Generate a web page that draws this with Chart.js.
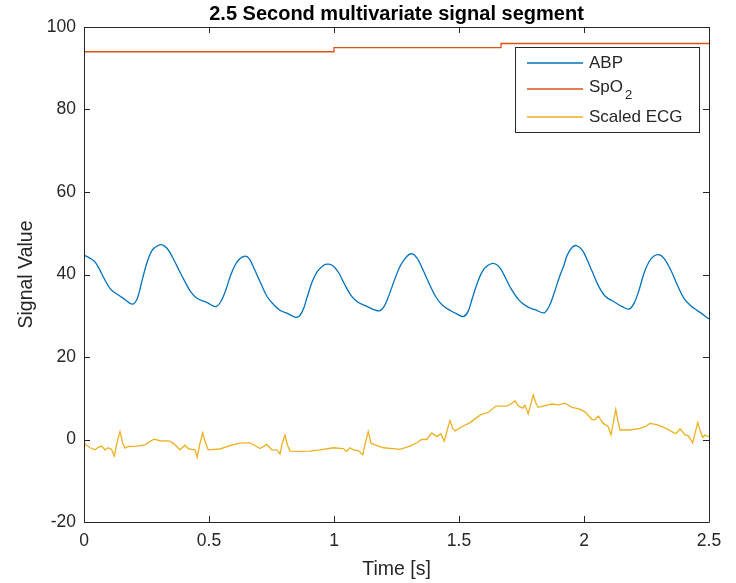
<!DOCTYPE html>
<html>
<head>
<meta charset="utf-8">
<script src="https://cdn.jsdelivr.net/npm/chart.js@4.4.1/dist/chart.umd.min.js"></script>
<style>
  body { margin: 0; background: #fff; }
  canvas { display: block; }
</style>
</head>
<body>
<canvas id="sigchart" width="736" height="583"></canvas>
<script>
// time axis [s] and values
var abpTime = [0, 0.04, 0.06, 0.08, 0.107, 0.133, 0.16, 0.193, 0.213, 0.233, 0.253, 0.273, 0.293, 0.313, 0.333, 0.353, 0.373, 0.4, 0.427, 0.453,
  0.493, 0.527, 0.547, 0.567, 0.587, 0.613, 0.64, 0.66, 0.68, 0.707, 0.733, 0.76, 0.787, 0.813, 0.851, 0.873, 0.893, 0.913, 0.933, 0.96,
  0.98, 1.0, 1.02, 1.04, 1.067, 1.093, 1.133, 1.18, 1.2, 1.22, 1.247, 1.267, 1.293, 1.313, 1.333, 1.353, 1.38, 1.407, 1.433, 1.467,
  1.493, 1.517, 1.536, 1.553, 1.573, 1.593, 1.613, 1.637, 1.66, 1.68, 1.707, 1.74, 1.773, 1.807, 1.84, 1.86, 1.88, 1.9, 1.92, 1.933,
  1.953, 1.97, 1.993, 2.013, 2.033, 2.06, 2.087, 2.12, 2.153, 2.18, 2.2, 2.22, 2.24, 2.26, 2.28, 2.3, 2.32, 2.347, 2.373, 2.4,
  2.427, 2.46, 2.5];
var abpValues = [44.7, 43.3, 41.5, 39.1, 36.4, 35.2, 34.1, 32.8, 34.2, 38.7, 43.1, 45.9, 46.9, 47.2, 46.3, 44.3, 41.9, 38.7, 35.8, 34.2,
  33.2, 32.2, 33.4, 36.2, 39.9, 43.1, 44.4, 43.9, 41.5, 37.9, 34.6, 32.6, 31.2, 30.6, 29.6, 31.0, 34.6, 38.3, 40.7, 42.3,
  42.5, 41.9, 40.3, 37.9, 35.0, 33.4, 32.2, 31.2, 32.2, 35.0, 39.5, 42.3, 44.5, 45.0, 43.9, 41.5, 37.9, 34.6, 32.6, 31.2,
  30.4, 29.8, 31.0, 34.2, 37.9, 40.7, 42.1, 42.7, 41.9, 39.9, 36.7, 33.8, 32.2, 31.4, 30.7, 32.2, 35.4, 39.1, 42.3, 44.7,
  46.6, 47.0, 45.9, 43.5, 40.7, 37.0, 34.6, 33.4, 32.2, 31.6, 33.0, 36.2, 40.3, 43.1, 44.5, 44.8, 43.9, 41.1, 37.5, 34.2,
  32.4, 31.0, 29.2];

var spo2Time = [0, 1.0, 1.668, 2.5];
var spo2Values = [94, 95, 96, 96];

var ecgTime = [0, 0.024, 0.044, 0.057, 0.071, 0.084, 0.097, 0.111, 0.121, 0.133, 0.144, 0.155, 0.164, 0.177, 0.211, 0.244, 0.264, 0.28, 0.304, 0.344,
  0.364, 0.384, 0.404, 0.417, 0.431, 0.444, 0.453, 0.464, 0.475, 0.484, 0.497, 0.544, 0.584, 0.624, 0.664, 0.704, 0.731, 0.751, 0.771, 0.784,
  0.793, 0.804, 0.813, 0.824, 0.864, 0.904, 0.944, 0.997, 1.037, 1.051, 1.064, 1.077, 1.097, 1.115, 1.125, 1.137, 1.148, 1.164, 1.197, 1.237,
  1.264, 1.304, 1.331, 1.351, 1.371, 1.391, 1.411, 1.427, 1.441, 1.453, 1.464, 1.475, 1.484, 1.511, 1.544, 1.584, 1.617, 1.648, 1.691, 1.707,
  1.724, 1.737, 1.755, 1.764, 1.777, 1.787, 1.797, 1.808, 1.817, 1.844, 1.871, 1.897, 1.924, 1.951, 1.977, 2.004, 2.031, 2.044, 2.057, 2.077,
  2.097, 2.108, 2.117, 2.127, 2.135, 2.144, 2.184, 2.224, 2.244, 2.264, 2.291, 2.324, 2.351, 2.368, 2.384, 2.404, 2.417, 2.435, 2.444, 2.455,
  2.464, 2.475, 2.484, 2.5];
var ecgValues = [-0.9, -2.0, -2.5, -1.9, -1.6, -2.5, -2.0, -2.5, -4.0, -0.5, 1.9, -0.9, -2.1, -1.7, -1.6, -1.3, -0.5, 0.1, -0.3, -0.4,
  -1.3, -2.5, -1.4, -2.2, -2.4, -2.5, -4.3, -0.9, 1.6, -0.5, -2.5, -2.3, -1.5, -0.9, -0.8, -2.2, -1.2, -2.5, -2.5, -3.5,
  -0.9, 1.1, -1.2, -2.8, -2.9, -2.8, -2.5, -2.0, -2.2, -2.9, -2.0, -2.5, -2.7, -3.7, -0.9, 1.9, -0.9, -1.3, -2.0, -2.2,
  -2.4, -1.6, -0.8, 0.0, 0.0, 1.6, 0.7, 1.4, -0.4, 2.3, 4.6, 2.7, 2.1, 3.1, 4.1, 5.9, 6.6, 8.1, 8.1, 8.6,
  9.4, 8.1, 7.6, 8.3, 6.2, 8.5, 10.8, 8.8, 7.8, 8.2, 8.6, 8.4, 8.8, 7.8, 7.5, 6.7, 4.9, 4.8, 5.7, 3.9,
  3.1, 1.1, 4.0, 7.3, 4.7, 2.3, 2.3, 2.7, 3.1, 3.9, 3.6, 2.8, 1.9, 1.4, 2.6, 1.1, 0.9, -0.8, 1.5, 4.1,
  2.3, 0.5, 1.1, 0.7];

var xTicks = [0, 0.5, 1, 1.5, 2, 2.5];
var yTicks = [-20, 0, 20, 40, 60, 80, 100];

var seriesNames = ["ABP", "SpO2", "Scaled ECG"];
var seriesColors = ["#0072BD", "#D95319", "#EDB120"];

var axisColor = "#262626";
var fontFamily = "'Liberation Sans', Arial, Helvetica, sans-serif";

function pairs(ts, vs) {
  var out = [];
  for (var i = 0; i < ts.length; i++) {
    out.push({ x: ts[i], y: vs[i] });
  }
  return out;
}

// box, inward ticks, title and legend drawn the matlab way
var matlabAxes = {
  id: "matlabAxes",
  afterDraw: function (chart) {
    var ctx = chart.ctx;
    var a = chart.chartArea;
    var xs = chart.scales.x, ys = chart.scales.y;
    var tl = 6;
    ctx.save();
    ctx.strokeStyle = axisColor;
    ctx.lineWidth = 1;
    ctx.beginPath();
    ctx.rect(Math.round(a.left) + 0.5, Math.round(a.top) + 0.5, Math.round(a.right - a.left), Math.round(a.bottom - a.top));
    xTicks.forEach(function (t) {
      var px = Math.round(xs.getPixelForValue(t)) + 0.5;
      ctx.moveTo(px, a.bottom); ctx.lineTo(px, a.bottom - tl);
      ctx.moveTo(px, a.top); ctx.lineTo(px, a.top + tl);
    });
    yTicks.forEach(function (t) {
      var py = Math.round(ys.getPixelForValue(t)) + 0.5;
      ctx.moveTo(a.left, py); ctx.lineTo(a.left + tl, py);
      ctx.moveTo(a.right, py); ctx.lineTo(a.right - tl, py);
    });
    ctx.stroke();

    // title
    ctx.fillStyle = "#000";
    ctx.font = "bold 20px " + fontFamily;
    ctx.textAlign = "center";
    ctx.textBaseline = "alphabetic";
    ctx.fillText("2.5 Second multivariate signal segment", (a.left + a.right) / 2, 20);

    // legend
    var bx = 515, by = 47, bw = 184, bh = 85;
    ctx.fillStyle = "#fff";
    ctx.fillRect(bx, by, bw, bh);
    ctx.strokeStyle = axisColor;
    ctx.strokeRect(bx + 0.5, by + 0.5, bw, bh);
    ctx.font = "17px " + fontFamily;
    ctx.textAlign = "left";
    ctx.textBaseline = "middle";
    var rows = [63, 89, 117];
    chart.data.datasets.forEach(function (ds, i) {
      var ry = rows[i];
      ctx.strokeStyle = seriesColors[i];
      ctx.lineWidth = 1.4;
      ctx.beginPath();
      ctx.moveTo(527, ry); ctx.lineTo(583, ry);
      ctx.stroke();
      ctx.fillStyle = axisColor;
      if (ds.label === "SpO2") {
        ctx.font = "17px " + fontFamily;
        ctx.fillText("SpO", 589, ry - 2);
        var w = ctx.measureText("SpO").width;
        ctx.font = "13px " + fontFamily;
        ctx.fillText("2", 589 + w + 2, ry + 6);
        ctx.font = "17px " + fontFamily;
      } else {
        ctx.fillText(ds.label, 589, ry);
      }
    });
    ctx.restore();
  }
};

function Init() {
  var ctx = document.getElementById("sigchart").getContext("2d");
  Chart.defaults.font.family = fontFamily;
  Chart.defaults.color = axisColor;

  var seriesData = [pairs(abpTime, abpValues), pairs(spo2Time, spo2Values), pairs(ecgTime, ecgValues)];
  var datasets = [];
  for (var i = 0; i < seriesNames.length; i++) {
    datasets.push({
      label: seriesNames[i],
      data: seriesData[i],
      borderColor: seriesColors[i],
      backgroundColor: seriesColors[i],
      borderWidth: 1.3,
      pointRadius: 0,
      fill: false,
      tension: i === 0 ? 0.35 : 0,
      stepped: i === 1 ? "before" : false
    });
  }

  new Chart(ctx, {
    type: "line",
    data: { datasets: datasets },
    plugins: [matlabAxes],
    options: {
      responsive: false,
      animation: false,
      layout: { padding: { top: 27, right: 27, left: 0, bottom: 0 } },
      plugins: {
        legend: { display: false },
        title: { display: false },
        tooltip: { enabled: false }
      },
      scales: {
        x: {
          type: "linear",
          min: 0,
          max: 2.5,
          afterFit: function (s) { s.height = 61; },
          afterBuildTicks: function (s) { s.ticks = xTicks.map(function (v) { return { value: v }; }); },
          grid: { display: false, drawTicks: false },
          border: { display: false },
          ticks: { padding: 9, font: { size: 17.5 }, color: axisColor, maxRotation: 0, callback: function (v) { return String(v); } },
          title: { display: true, text: "Time [s]", font: { size: 19.5 }, color: axisColor, padding: { top: 0, bottom: 2 } }
        },
        y: {
          min: -20,
          max: 100,
          afterFit: function (s) { s.width = 84; },
          afterBuildTicks: function (s) { s.ticks = yTicks.map(function (v) { return { value: v }; }); },
          grid: { display: false, drawTicks: false },
          border: { display: false },
          ticks: { padding: 8, font: { size: 17.5 }, color: axisColor, callback: function (v) { return String(v); } },
          title: { display: true, text: "Signal Value", font: { size: 19.5 }, color: axisColor, padding: { top: 15, bottom: 0 } }
        }
      }
    }
  });
}

Init();
</script>
</body>
</html>
